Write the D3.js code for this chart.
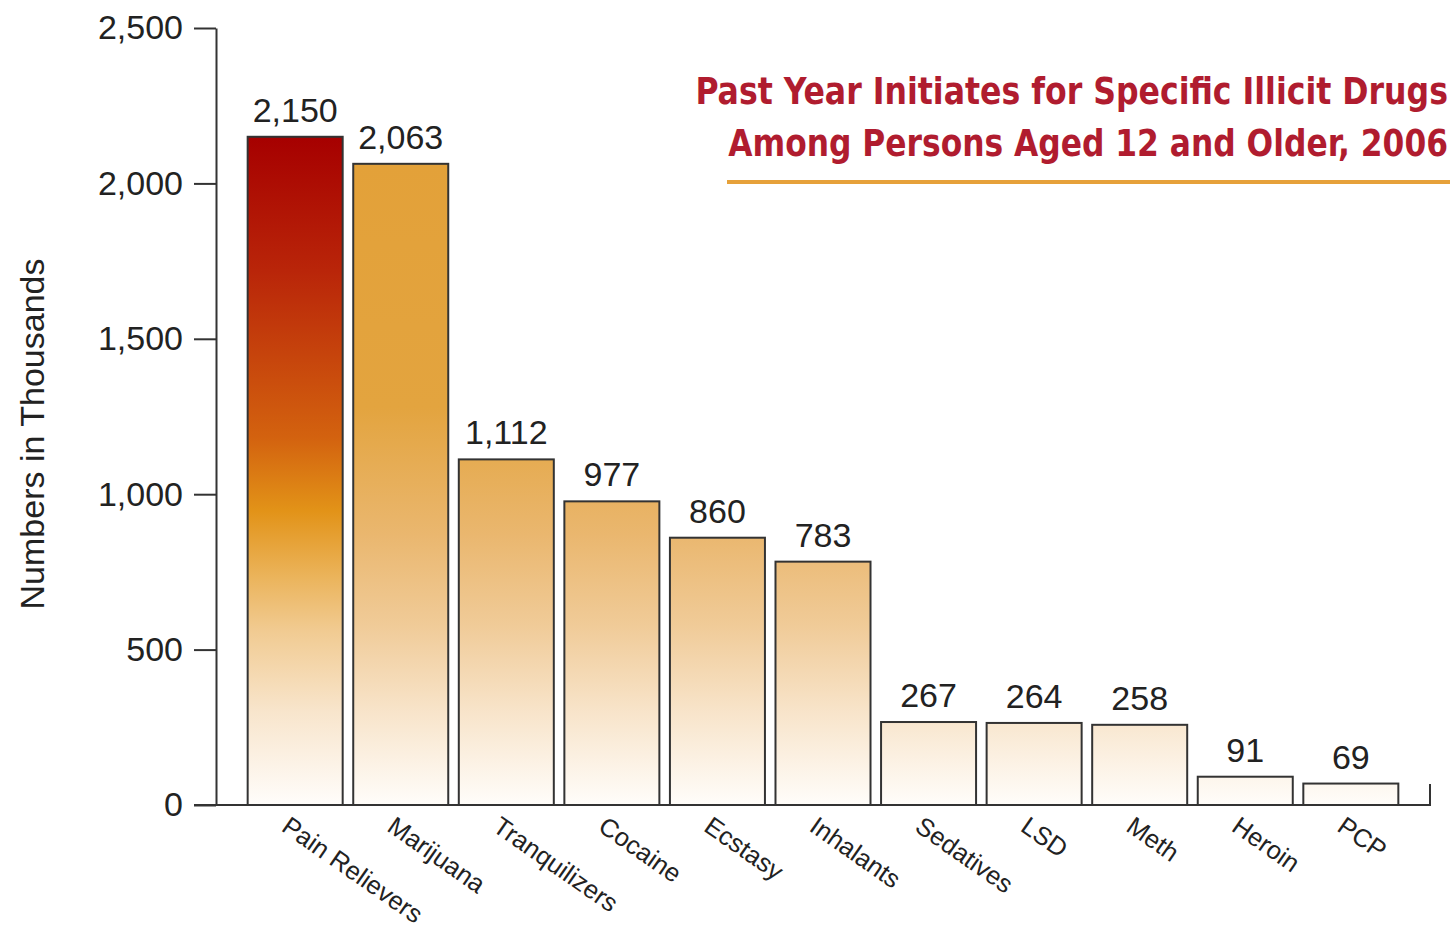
<!DOCTYPE html>
<html>
<head>
<meta charset="utf-8">
<script src="https://cdn.jsdelivr.net/npm/d3@7/dist/d3.min.js"></script>
<style>
  html, body { margin: 0; padding: 0; background: #fff; }
  svg { display: block; }
</style>
</head>
<body>
<svg id="chart" width="1452" height="927"></svg>
<script>
const categories = ["Pain Relievers", "Marijuana", "Tranquilizers", "Cocaine", "Ecstasy", "Inhalants", "Sedatives", "LSD", "Meth", "Heroin", "PCP"];
const values = [2150, 2063, 1112, 977, 860, 783, 267, 264, 258, 91, 69];
const yTicks = [0, 500, 1000, 1500, 2000, 2500];
const titleLines = ["Past Year Initiates for Specific Illicit Drugs", "Among Persons Aged 12 and Older, 2006"];
const yTitle = "Numbers in Thousands";

const svg = d3.select("#chart");
const font = "'Liberation Sans', Arial, Helvetica, sans-serif";
const ink = "#333333";

const x = d3.scaleBand().domain(categories).range([216, 1430]).paddingInner(0.1).paddingOuter(0.3);
const y = d3.scaleLinear().domain([0, 2500]).range([805, 28]);

// gradients
const defs = svg.append("defs");
const gPain = defs.append("linearGradient").attr("id", "gPain")
  .attr("gradientUnits", "userSpaceOnUse").attr("x1", 0).attr("x2", 0)
  .attr("y1", y(values[0])).attr("y2", y(0));
[[0, "#a60000"], [0.2, "#b92509"], [0.45, "#d3620f"], [0.56, "#e29318"], [0.66, "#ebb45c"], [0.74, "#f1cb92"], [0.86, "#f8e5cc"], [1, "#fffdfb"]]
  .forEach(([o, c]) => gPain.append("stop").attr("offset", o).attr("stop-color", c));
const gOrange = defs.append("linearGradient").attr("id", "gOrange")
  .attr("gradientUnits", "userSpaceOnUse").attr("x1", 0).attr("x2", 0)
  .attr("y1", y(values[1])).attr("y2", y(0));
[[0, "#e3a139"], [0.38, "#e3a43f"], [0.58, "#eab76f"], [0.72, "#f0cb98"], [0.86, "#f8e5cc"], [1, "#fffdfa"]]
  .forEach(([o, c]) => gOrange.append("stop").attr("offset", o).attr("stop-color", c));

// bars
svg.append("g").selectAll("rect").data(categories).join("rect")
  .attr("x", d => x(d))
  .attr("y", (d, i) => y(values[i]))
  .attr("width", x.bandwidth())
  .attr("height", (d, i) => y(0) - y(values[i]))
  .attr("fill", (d, i) => i === 0 ? "url(#gPain)" : "url(#gOrange)")
  .attr("stroke", ink).attr("stroke-width", 2);

// value labels
svg.append("g").selectAll("text").data(categories).join("text")
  .attr("x", d => x(d) + x.bandwidth() / 2)
  .attr("y", (d, i) => y(values[i]) - 15)
  .attr("text-anchor", "middle")
  .attr("font-family", font).attr("font-size", 34).attr("fill", "#222")
  .text((d, i) => d3.format(",")(values[i]));

// y axis
const yAxis = d3.axisLeft(y).tickValues(yTicks).tickFormat(d3.format(",")).tickSize(22).tickSizeOuter(0).tickPadding(11);
const gy = svg.append("g").attr("transform", "translate(216,0)").call(yAxis);
gy.select(".domain").attr("stroke", ink).attr("stroke-width", 2);
gy.selectAll(".tick line").attr("stroke", ink).attr("stroke-width", 2);
gy.selectAll(".tick text").attr("font-family", font).attr("font-size", 34).attr("fill", "#222");

// x baseline
const xAxis = d3.axisBottom(x).tickSize(0).tickFormat("");
const gx = svg.append("g").attr("transform", `translate(0,${y(0)})`).call(xAxis);
gx.select(".domain").remove();
gx.append("line").attr("x1", 194).attr("x2", x.range()[1]).attr("y1", 0).attr("y2", 0)
  .attr("stroke", ink).attr("stroke-width", 2);
gx.append("line").attr("x1", x.range()[1]).attr("x2", x.range()[1]).attr("y1", -21).attr("y2", 1)
  .attr("stroke", ink).attr("stroke-width", 2);
gx.selectAll(".tick").append("text")
  .attr("transform", "translate(-15,25) rotate(35)")
  .attr("text-anchor", "start")
  .attr("font-family", font).attr("font-size", 25.5).attr("fill", "#222")
  .text(d => d);

// y title
svg.append("text")
  .attr("transform", "translate(44,434) rotate(-90)")
  .attr("text-anchor", "middle")
  .attr("font-family", font).attr("font-size", 34).attr("fill", "#222")
  .text(yTitle);

// chart title
const titleFont = "'Liberation Sans Narrow', 'DejaVu Sans Condensed', 'Roboto Condensed', Arial, sans-serif";
const tLens = [753, 720];
const tY = [104, 156];
titleLines.forEach((t, i) => {
  const g = svg.append("g");
  const el = g.append("text")
    .attr("x", 0).attr("y", 0)
    .attr("text-anchor", "end")
    .attr("font-family", titleFont).attr("font-weight", "bold").attr("font-size", 37)
    .attr("fill", "#b01c2f")
    .text(t);
  const w = el.node().getComputedTextLength();
  const sx = w > 0 ? tLens[i] / w : 1;
  g.attr("transform", `translate(1448,${tY[i]}) scale(${sx},1)`);
});
svg.append("line").attr("x1", 727).attr("x2", 1450).attr("y1", 182).attr("y2", 182)
  .attr("stroke", "#e6a13a").attr("stroke-width", 4);
</script>
</body>
</html>
